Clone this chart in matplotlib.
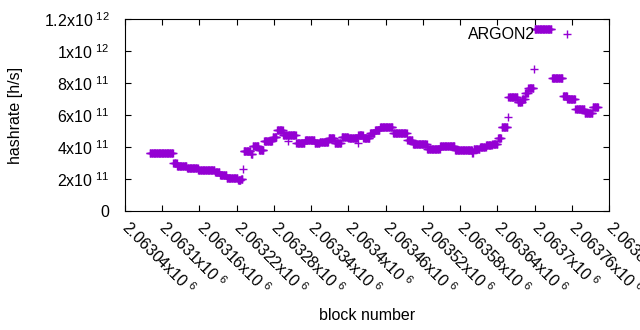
import numpy as np
import matplotlib
matplotlib.use("Agg")
import matplotlib.pyplot as plt
from matplotlib.transforms import ScaledTranslation

plt.rcParams["font.family"] = ["Liberation Sans", "DejaVu Sans"]
plt.rcParams["mathtext.fontset"] = "custom"
plt.rcParams["mathtext.rm"] = "Liberation Sans"
plt.rcParams["font.size"] = 11.5

# runs of (nearly) constant hashrate: first block, last block, h/s
run_first = [2063080, 2063118, 2063124, 2063140, 2063158, 2063185, 2063193, 2063204,
             2063222, 2063227, 2063230, 2063231, 2063243, 2063246, 2063256, 2063264,
             2063278, 2063285, 2063295, 2063303, 2063304, 2063316, 2063330, 2063346,
             2063354, 2063368, 2063378, 2063389, 2063400, 2063415, 2063416, 2063424,
             2063435, 2063443, 2063451, 2063472, 2063495, 2063504, 2063527, 2063548,
             2063572, 2063600, 2063602, 2063612, 2063622, 2063632, 2063641, 2063647,
             2063657, 2063658, 2063673, 2063680, 2063685, 2063690, 2063699, 2063700,
             2063728, 2063746, 2063753, 2063766, 2063781, 2063794]
run_last = [2063117, 2063123, 2063139, 2063157, 2063184, 2063192, 2063203, 2063221,
            2063226, 2063229, 2063230, 2063242, 2063245, 2063255, 2063263, 2063277,
            2063284, 2063294, 2063302, 2063303, 2063315, 2063329, 2063345, 2063353,
            2063367, 2063377, 2063388, 2063399, 2063414, 2063415, 2063423, 2063434,
            2063442, 2063450, 2063471, 2063494, 2063503, 2063526, 2063547, 2063571,
            2063599, 2063601, 2063611, 2063621, 2063631, 2063640, 2063646, 2063656,
            2063657, 2063672, 2063679, 2063684, 2063689, 2063698, 2063699, 2063727,
            2063745, 2063752, 2063765, 2063780, 2063793, 2063802]
run_rate = [3.60, 2.98, 2.83, 2.67, 2.56, 2.42, 2.25, 2.08,
            1.95, 2.00, 2.60, 3.75, 3.54, 4.06, 3.80, 4.37,
            4.65, 5.06, 4.75, 4.40, 4.75, 4.27, 4.44, 4.27,
            4.33, 4.58, 4.23, 4.65, 4.54, 4.27, 4.75, 4.54,
            4.85, 5.05, 5.27, 4.90, 4.44, 4.17, 3.90, 4.06,
            3.81, 3.60, 3.85, 3.98, 4.10, 4.20, 4.56, 5.23,
            5.86, 7.10, 6.83, 7.00, 7.40, 7.67, 8.86, 11.35,
            8.33, 7.20, 7.00, 6.36, 6.10, 6.48]  # x10^11

x_ticks = list(range(2063040, 2063821, 60))
y_ticks = [0, 2e11, 4e11, 6e11, 8e11, 1e12, 1.2e12]
y_tick_labels = ["0", "2x10$^{\\ 11}$", "4x10$^{\\ 11}$", "6x10$^{\\ 11}$",
                 "8x10$^{\\ 11}$", "1x10$^{\\ 12}$", "1.2x10$^{\\ 12}$"]

blocks = np.concatenate([np.arange(a, b + 1) for a, b in zip(run_first, run_last)])
rates = np.concatenate([np.full(b - a + 1, r * 1e11)
                        for a, b, r in zip(run_first, run_last, run_rate)])

fig = plt.figure(figsize=(6.4, 3.3), dpi=100)
ax = fig.add_axes([125 / 640, 119 / 330, 484 / 640, 192 / 330])

ax.plot(blocks, rates, "+", color="#9400d3", ms=5.5, mew=1.0, label="ARGON2")

ax.set_xlim(2063040, 2063820)
ax.set_ylim(0, 1.2e12)
ax.set_xticks(x_ticks)
ax.set_xticklabels([f"{v / 1e6:g}x10$^{{\\ 6}}$" for v in x_ticks],
                   rotation=-45, ha="left", va="center", rotation_mode="anchor")
# gnuplot puts the rotated labels a touch right of the tick
shift = ScaledTranslation(3 / 100, 0, fig.dpi_scale_trans)
for lab in ax.get_xticklabels():
    lab.set_transform(lab.get_transform() + shift)
ax.set_yticks(y_ticks)
ax.set_yticklabels(y_tick_labels)
ax.tick_params(direction="in", length=4, width=0.8, top=True, right=True)
ax.tick_params(axis="y", pad=11)
ax.tick_params(axis="x", pad=9.5)
for s in ax.spines.values():
    s.set_linewidth(0.8)

ax.legend(loc="upper right", bbox_to_anchor=(0.96, 0.99), frameon=False,
          markerfirst=False, handlelength=2.0, handletextpad=1.0,
          borderaxespad=0, fontsize=11.5)

fig.text(16 / 640, 1 - 115 / 330, "hashrate [h/s]", rotation=90,
         ha="center", va="center")
fig.text(367 / 640, 1 - 315 / 330, "block number", ha="center", va="center")

fig.savefig("out.png", dpi=100)
